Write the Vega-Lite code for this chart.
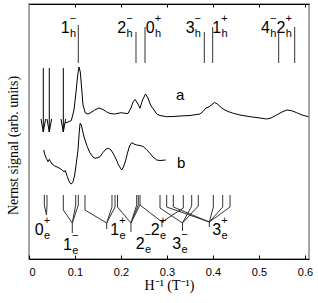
{
 "$schema": "https://vega.github.io/schema/vega-lite/v6.json",
 "width": 280, "height": 255,
 "autosize": {"type": "none"},
 "padding": {"left": 29, "top": 4, "right": 9, "bottom": 44},
 "config": {"view": {"stroke": "#888", "strokeWidth": 1.5}, "font": "Liberation Sans"},
 "datasets": {
  "curveA": [
   {"x":0.0783,"y":136},{"x":0.0848,"y":137},{"x":0.0920,"y":138.5},{"x":0.0978,"y":149},{"x":0.1022,"y":167},{"x":0.1061,"y":185},{"x":0.1087,"y":192},{"x":0.1115,"y":187},{"x":0.1148,"y":169},{"x":0.1174,"y":154},{"x":0.1224,"y":146},{"x":0.1283,"y":145},{"x":0.1348,"y":146.5},{"x":0.1428,"y":149},{"x":0.1522,"y":151},{"x":0.1609,"y":149.5},{"x":0.1680,"y":147.3},{"x":0.1761,"y":145.5},{"x":0.1863,"y":145},{"x":0.1935,"y":145.7},{"x":0.2007,"y":146.3},{"x":0.2087,"y":145.7},{"x":0.2152,"y":145.5},{"x":0.2217,"y":151},{"x":0.2261,"y":157},{"x":0.2304,"y":159.5},{"x":0.2359,"y":156},{"x":0.2413,"y":150.7},{"x":0.2467,"y":159},{"x":0.2533,"y":165},{"x":0.2587,"y":161},{"x":0.2641,"y":154},{"x":0.2702,"y":150},{"x":0.2776,"y":145},{"x":0.2848,"y":143.5},{"x":0.2993,"y":142.3},{"x":0.3130,"y":142.5},{"x":0.3283,"y":143},{"x":0.35,"y":143.5},{"x":0.3717,"y":145},{"x":0.3783,"y":147.5},{"x":0.3848,"y":151},{"x":0.3913,"y":152.2},{"x":0.3978,"y":154.5},{"x":0.4033,"y":156.5},{"x":0.4098,"y":155},{"x":0.4163,"y":152},{"x":0.4239,"y":149.5},{"x":0.4326,"y":147.5},{"x":0.4441,"y":145.7},{"x":0.4587,"y":144},{"x":0.4804,"y":142.3},{"x":0.5022,"y":141},{"x":0.5167,"y":140},{"x":0.5261,"y":141},{"x":0.5385,"y":144},{"x":0.5478,"y":146.5},{"x":0.5602,"y":149},{"x":0.5696,"y":148.5},{"x":0.5820,"y":146.3},{"x":0.5935,"y":144},{"x":0.6072,"y":142.3}
  ],
  "curveB": [
   {"x":0.0320,"y":109},{"x":0.0341,"y":105},{"x":0.0376,"y":100.7},{"x":0.0413,"y":97.3},{"x":0.0441,"y":99.7},{"x":0.0472,"y":97.3},{"x":0.05,"y":95},{"x":0.0559,"y":93},{"x":0.0630,"y":91.7},{"x":0.0702,"y":89.7},{"x":0.0761,"y":87.3},{"x":0.0789,"y":88.5},{"x":0.0833,"y":82.3},{"x":0.0885,"y":76.3},{"x":0.0920,"y":75},{"x":0.0957,"y":77.3},{"x":0.0993,"y":84},{"x":0.1028,"y":95.7},{"x":0.1065,"y":109},{"x":0.1091,"y":126},{"x":0.1109,"y":135.5},{"x":0.1130,"y":135},{"x":0.1152,"y":131},{"x":0.1196,"y":122},{"x":0.1267,"y":112.3},{"x":0.1326,"y":106},{"x":0.1391,"y":102},{"x":0.1435,"y":100.7},{"x":0.15,"y":101.5},{"x":0.1543,"y":102.3},{"x":0.1609,"y":106.5},{"x":0.1674,"y":110},{"x":0.1724,"y":110.7},{"x":0.1783,"y":109},{"x":0.1837,"y":105},{"x":0.1891,"y":100},{"x":0.1946,"y":94},{"x":0.2015,"y":89},{"x":0.2054,"y":92},{"x":0.2098,"y":98},{"x":0.2141,"y":106},{"x":0.2185,"y":113},{"x":0.2233,"y":116.3},{"x":0.2283,"y":115},{"x":0.2341,"y":114},{"x":0.2413,"y":113.5},{"x":0.2485,"y":112.3},{"x":0.2554,"y":109.5},{"x":0.2630,"y":105.7},{"x":0.2696,"y":102},{"x":0.2776,"y":99},{"x":0.2848,"y":98.5},{"x":0.2972,"y":99}
  ],
  "hlines": [
   {"x":0.1072,"y":196,"x2":0.1072,"y2":234},{"x":0.2326,"y":196,"x2":0.2326,"y2":227},{"x":0.2522,"y":196,"x2":0.2522,"y2":232},{"x":0.3811,"y":196,"x2":0.3811,"y2":227},{"x":0.3993,"y":196,"x2":0.3993,"y2":232},{"x":0.5428,"y":196,"x2":0.5428,"y2":227},{"x":0.5776,"y":196,"x2":0.5776,"y2":232}
  ],
  "arrows": [
   {"x":0.0311,"y":191,"x2":0.0311,"y2":127},{"x":0.0261,"y":140,"x2":0.0311,"y2":127},{"x":0.0361,"y":140,"x2":0.0311,"y2":127},
   {"x":0.0441,"y":191,"x2":0.0441,"y2":127},{"x":0.0391,"y":140,"x2":0.0441,"y2":127},{"x":0.0491,"y":140,"x2":0.0441,"y2":127},
   {"x":0.0746,"y":191,"x2":0.0746,"y2":127},{"x":0.0696,"y":140,"x2":0.0746,"y2":127},{"x":0.0796,"y":140,"x2":0.0746,"y2":127}
  ],
  "trees": [
   {"x":0.0333,"y":64,"x2":0.0333,"y2":54},{"x":0.0391,"y":64,"x2":0.0391,"y2":54},{"x":0.0333,"y":54,"x2":0.0380,"y2":44},{"x":0.0391,"y":54,"x2":0.0380,"y2":44},
   {"x":0.0746,"y":64,"x2":0.0746,"y2":49},{"x":0.0746,"y":49,"x2":0.0941,"y2":36},{"x":0.1015,"y":64,"x2":0.1015,"y2":54},{"x":0.1015,"y":54,"x2":0.0941,"y2":36},{"x":0.1072,"y":64,"x2":0.1072,"y2":54},{"x":0.1072,"y":54,"x2":0.0941,"y2":36},{"x":0.0941,"y":36,"x2":0.0941,"y2":26},
   {"x":0.1217,"y":64,"x2":0.1217,"y2":49},{"x":0.1217,"y":49,"x2":0.1689,"y2":36},{"x":0.1804,"y":64,"x2":0.1804,"y2":52},{"x":0.1804,"y":52,"x2":0.1689,"y2":36},{"x":0.1870,"y":64,"x2":0.1870,"y2":52},{"x":0.1870,"y":52,"x2":0.1689,"y2":36},{"x":0.1689,"y":36,"x2":0.1689,"y2":30},
   {"x":0.1924,"y":64,"x2":0.1924,"y2":52},{"x":0.1924,"y":52,"x2":0.2217,"y2":36},{"x":0.2341,"y":64,"x2":0.2341,"y2":54},{"x":0.2341,"y":54,"x2":0.2217,"y2":36},{"x":0.2376,"y":64,"x2":0.2376,"y2":54},{"x":0.2376,"y":54,"x2":0.2217,"y2":36},{"x":0.2413,"y":64,"x2":0.2413,"y2":54},{"x":0.2413,"y":54,"x2":0.2217,"y2":36},{"x":0.2217,"y":36,"x2":0.2217,"y2":27},
   {"x":0.2413,"y":54,"x2":0.2891,"y2":37},{"x":0.3354,"y":64,"x2":0.3354,"y2":51},{"x":0.3354,"y":51,"x2":0.2891,"y2":37},{"x":0.2891,"y":37,"x2":0.2891,"y2":32},
   {"x":0.2848,"y":64,"x2":0.2848,"y2":51},{"x":0.2848,"y":51,"x2":0.3337,"y2":36},{"x":0.3537,"y":64,"x2":0.3537,"y2":53},{"x":0.3537,"y":53,"x2":0.3337,"y2":36},{"x":0.3680,"y":64,"x2":0.3680,"y2":53},{"x":0.3680,"y":53,"x2":0.3337,"y2":36},{"x":0.3337,"y":36,"x2":0.3337,"y2":28},
   {"x":0.2993,"y":64,"x2":0.2993,"y2":52},{"x":0.2993,"y":52,"x2":0.3920,"y2":37},{"x":0.3137,"y":64,"x2":0.3137,"y2":52},{"x":0.3137,"y":52,"x2":0.3920,"y2":37},{"x":0.4007,"y":64,"x2":0.4007,"y2":52},{"x":0.4007,"y":52,"x2":0.3920,"y2":37},{"x":0.4211,"y":64,"x2":0.4211,"y2":52},{"x":0.4211,"y":52,"x2":0.3920,"y2":37},{"x":0.4370,"y":64,"x2":0.4370,"y2":52},{"x":0.4370,"y":52,"x2":0.3920,"y2":37},{"x":0.3920,"y":37,"x2":0.3920,"y2":32}
  ],
  "labels": [
   {"x":0.0690,"y":226,"d":"1","sup":"−","sub":"h"},{"x":0.1920,"y":226,"d":"2","sup":"−","sub":"h"},{"x":0.2540,"y":226,"d":"0","sup":"+","sub":"h"},{"x":0.3405,"y":226,"d":"3","sup":"−","sub":"h"},{"x":0.3985,"y":226,"d":"1","sup":"+","sub":"h"},{"x":0.5045,"y":226,"d":"4","sup":"−","sub":"h"},{"x":0.5380,"y":226,"d":"2","sup":"+","sub":"h"},
   {"x":0.0125,"y":24,"d":"0","sup":"+","sub":"e"},{"x":0.0740,"y":9,"d":"1","sup":"−","sub":"e"},{"x":0.1768,"y":24,"d":"1","sup":"+","sub":"e"},{"x":0.2320,"y":10,"d":"2","sup":"−","sub":"e"},{"x":0.2648,"y":24,"d":"2","sup":"+","sub":"e"},{"x":0.3115,"y":10,"d":"3","sup":"−","sub":"e"},{"x":0.3985,"y":24,"d":"3","sup":"+","sub":"e"}
  ],
  "ab": [{"x":0.3196,"y":159,"t":"a"},{"x":0.3217,"y":91,"t":"b"}]
 },
 "resolve": {"axis": {"x": "independent"}},
 "layer": [
  {
   "data": {"name": "curveA"},
   "mark": {"type": "line", "color": "#000", "strokeWidth": 1, "clip": true},
   "encoding": {
    "x": {"field": "x", "type": "quantitative", "scale": {"domain": [0, 0.6087], "nice": false, "zero": false},
     "axis": {"orient": "bottom", "values": [0, 0.1, 0.2, 0.3, 0.4, 0.5, 0.6], "format": "~g", "grid": false,
      "tickSize": -4, "tickColor": "#000", "domainColor": "#000", "labelPadding": 11, "labelFontSize": 11, "labelColor": "#000", "labelFont": "Liberation Sans",
      "title": "H⁻¹ (T⁻¹)", "titleFont": "Liberation Serif", "titleFontSize": 14, "titleFontWeight": "normal", "titleColor": "#000", "titleBaseline": "alphabetic", "titleY": 30}},
    "y": {"field": "y", "type": "quantitative", "scale": {"domain": [0, 255], "nice": false, "zero": false},
     "axis": {"labels": false, "ticks": false, "domain": false, "grid": false,
      "title": "Nernst signal (arb. units)", "titleFont": "Liberation Serif", "titleFontSize": 14, "titleFontWeight": "normal", "titleColor": "#000", "titleBaseline": "alphabetic", "titleAlign": "center", "titleX": -11.5, "titleY": 141}}
   }
  },
  {
   "data": {"name": "curveB"},
   "mark": {"type": "line", "color": "#000", "strokeWidth": 1},
   "encoding": {
    "x": {"field": "x", "type": "quantitative", "axis": {"orient": "top", "values": [0.1, 0.2, 0.3, 0.4, 0.5, 0.6], "labels": false, "title": null, "grid": false, "tickSize": -3, "tickColor": "#000", "domainColor": "#000"}},
    "y": {"field": "y", "type": "quantitative"}
   }
  },
  {
   "data": {"name": "hlines"},
   "mark": {"type": "rule", "color": "#333", "strokeWidth": 1},
   "encoding": {"x": {"field": "x", "type": "quantitative", "axis": null}, "x2": {"field": "x2"}, "y": {"field": "y", "type": "quantitative"}, "y2": {"field": "y2"}}
  },
  {
   "data": {"name": "arrows"},
   "mark": {"type": "rule", "color": "#000", "strokeWidth": 1},
   "encoding": {"x": {"field": "x", "type": "quantitative", "axis": null}, "x2": {"field": "x2"}, "y": {"field": "y", "type": "quantitative"}, "y2": {"field": "y2"}}
  },
  {
   "data": {"name": "trees"},
   "mark": {"type": "rule", "color": "#333", "strokeWidth": 1},
   "encoding": {"x": {"field": "x", "type": "quantitative", "axis": null}, "x2": {"field": "x2"}, "y": {"field": "y", "type": "quantitative"}, "y2": {"field": "y2"}}
  },
  {
   "data": {"name": "labels"},
   "layer": [
    {"mark": {"type": "text", "align": "left", "baseline": "alphabetic", "fontSize": 16, "font": "Liberation Sans", "color": "#000"},
     "encoding": {"x": {"field": "x", "type": "quantitative", "axis": null}, "y": {"field": "y", "type": "quantitative"}, "text": {"field": "d"}}},
    {"mark": {"type": "text", "align": "left", "baseline": "alphabetic", "fontSize": 11, "font": "Liberation Sans", "color": "#000", "dx": 8.9, "dy": -11},
     "encoding": {"x": {"field": "x", "type": "quantitative", "axis": null}, "y": {"field": "y", "type": "quantitative"}, "text": {"field": "sup"}}},
    {"mark": {"type": "text", "align": "left", "baseline": "alphabetic", "fontSize": 11, "font": "Liberation Sans", "color": "#000", "dx": 9.2, "dy": 4},
     "encoding": {"x": {"field": "x", "type": "quantitative", "axis": null}, "y": {"field": "y", "type": "quantitative"}, "text": {"field": "sub"}}}
   ]
  },
  {
   "data": {"name": "ab"},
   "mark": {"type": "text", "align": "left", "baseline": "alphabetic", "fontSize": 15, "font": "Liberation Sans", "color": "#000"},
   "encoding": {"x": {"field": "x", "type": "quantitative", "axis": null}, "y": {"field": "y", "type": "quantitative"}, "text": {"field": "t"}}
  }
 ]
}
